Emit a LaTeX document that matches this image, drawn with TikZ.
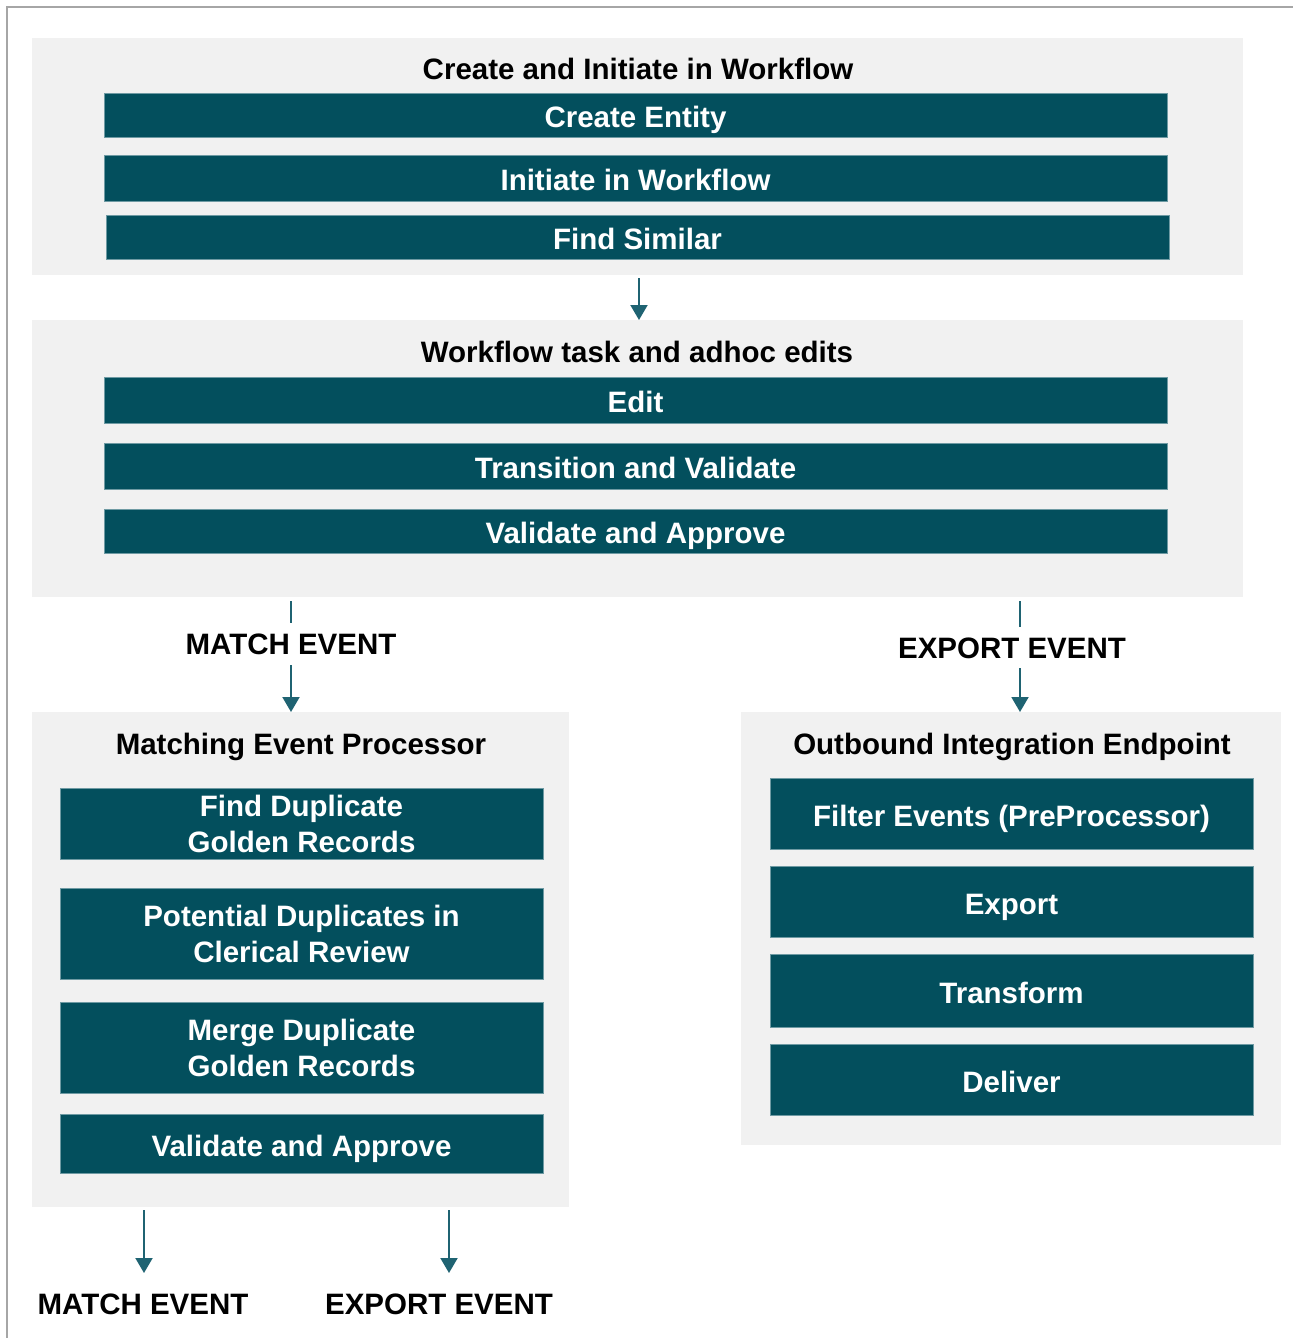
\documentclass[tikz,border=0pt]{standalone}
\usepackage{fontspec}
\setmainfont{Liberation Sans}
\usetikzlibrary{arrows.meta}
\definecolor{barc}{HTML}{034F5D}
\definecolor{bared}{HTML}{6E9AA3}
\definecolor{panelc}{HTML}{F1F1F1}
\definecolor{arrc}{HTML}{1F6372}
\definecolor{framec}{HTML}{A6A6A6}
\begin{document}
\begin{tikzpicture}[x=1pt,y=-1pt,
  panel/.style={fill=panelc, draw=none, inner sep=0pt, outer sep=0pt},
  bar/.style={fill=barc, draw=bared, line width=1pt, inner sep=0pt, outer sep=0pt, text=white,
    font=\fontsize{29.5}{36}\selectfont\bfseries, align=center},
  onebar/.style={bar, text height=27pt, text depth=1.4pt},
  ttl/.style={font=\fontsize{29.5}{34}\selectfont\bfseries, text=black, inner sep=0pt, anchor=base},
  evt/.style={font=\fontsize{29.5}{34}\selectfont\bfseries, text=black, inner sep=0pt, anchor=base},
  conn/.style={draw=arrc, line width=2pt},
  arr/.style={conn, -{Triangle[width=17pt,length=15pt]}}
]
\useasboundingbox (0,0) rectangle (1293,1338);
\fill[white] (0,0) rectangle (1293,1338);
\draw[framec, line width=2pt] (7,1338) -- (7,7) -- (1293,7);

% panels
\node[panel, minimum width=1211pt, minimum height=237pt] (p1) at (637.5,156.5) {};
\node[panel, minimum width=1211pt, minimum height=277pt] (p2) at (637.5,458.5) {};
\node[panel, minimum width=537pt, minimum height=495pt] (p3) at (300.5,959.5) {};
\node[panel, minimum width=540pt, minimum height=433pt] (p4) at (1011,928.5) {};

% titles
\node[ttl] (t1) at (638,80) {Create and Initiate in Workflow};
\node[ttl] (t2) at (637,362) {Workflow task and adhoc edits};
\node[ttl] (t3) at (301,754) {Matching Event Processor};
\node[ttl] (t4) at (1012,754) {Outbound Integration Endpoint};

% panel 1 bars
\node[onebar, minimum width=1063pt, minimum height=44pt] (b1) at (635.5,115) {Create Entity};
\node[onebar, minimum width=1063pt, minimum height=46pt] (b2) at (635.5,178) {Initiate in Workflow};
\node[onebar, minimum width=1063pt, minimum height=44pt] (b3) at (637.5,237) {Find Similar};

% panel 2 bars
\node[onebar, minimum width=1063pt, minimum height=46pt] (e1) at (635.5,400) {Edit};
\node[onebar, minimum width=1063pt, minimum height=46pt] (e2) at (635.5,466) {Transition and Validate};
\node[onebar, minimum width=1063pt, minimum height=44pt] (e3) at (635.5,531) {Validate and Approve};

% panel 3 bars
\node[bar, minimum width=483pt, minimum height=71pt] (m1) at (301.5,823.5) {Find Duplicate\\Golden Records};
\node[bar, minimum width=483pt, minimum height=91pt] (m2) at (301.5,933.5) {Potential Duplicates in\\Clerical Review};
\node[bar, minimum width=483pt, minimum height=91pt] (m3) at (301.5,1047.5) {Merge Duplicate\\Golden Records};
\node[onebar, minimum width=483pt, minimum height=59pt] (m4) at (301.5,1143.5) {Validate and Approve};

% panel 4 bars
\node[onebar, minimum width=483pt, minimum height=71pt] (o1) at (1011.5,813.5) {Filter Events (PreProcessor)};
\node[onebar, minimum width=483pt, minimum height=71pt] (o2) at (1011.5,901.5) {Export};
\node[onebar, minimum width=483pt, minimum height=73pt] (o3) at (1011.5,990.5) {Transform};
\node[onebar, minimum width=483pt, minimum height=71pt] (o4) at (1011.5,1079.5) {Deliver};

% event labels
\node[evt] (me1) at (291,654) {MATCH EVENT};
\node[evt] (ee1) at (1012,658) {EXPORT EVENT};
\node[evt] (me2) at (143,1314) {MATCH EVENT};
\node[evt] (ee2) at (439,1314) {EXPORT EVENT};

% connectors
\draw[arr] (p1.south -| 639,0) ++(0,3) -- (p2.north -| 639,0);

\coordinate (ma) at (291,601);
\coordinate (mb) at (291,623);
\coordinate (mc) at (291,665);
\draw[conn] (ma) -- (mb);
\draw[arr] (mc) -- (p3.north -| ma);

\coordinate (xa) at (1020,601);
\coordinate (xb) at (1020,627);
\coordinate (xc) at (1020,668);
\draw[conn] (xa) -- (xb);
\draw[arr] (xc) -- (p4.north -| xa);

\coordinate (ba) at (144,1210);
\coordinate (bb) at (144,1273);
\coordinate (ca) at (449,1210);
\coordinate (cb) at (449,1273);
\draw[arr] (ba) -- (bb);
\draw[arr] (ca) -- (cb);
\end{tikzpicture}
\end{document}
